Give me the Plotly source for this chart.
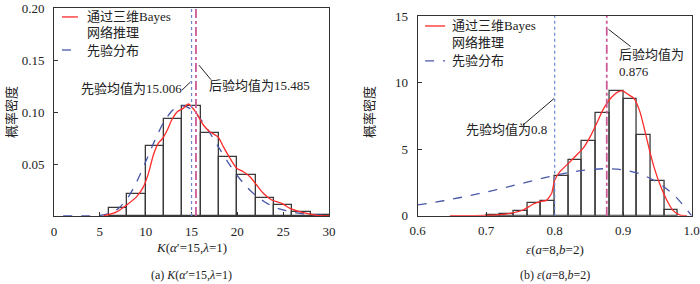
import plotly.graph_objects as go

# ---------------- data: panel (a) ----------------
k_bin_left = [6, 8, 10, 12, 14, 16, 18, 20, 22, 24, 26, 28]
k_bin_width = 2
k_hist = [0.0075, 0.021, 0.067, 0.093, 0.1055, 0.080, 0.057, 0.0394, 0.017, 0.0106, 0.0034, 0.0012]

k_post_x = [5.4, 6.84, 7.93, 9.02, 9.75, 10.3, 10.84, 11.38, 11.85, 12.36, 12.84, 13.45, 14.1, 14.65,
            15.0, 15.56, 16.29, 17.0, 17.9, 18.47, 19.2, 19.93, 20.65, 21.38, 22.1, 22.83, 23.75,
            24.84, 25.75, 27.2, 28.65, 30.0]
k_post_y = [0.0, 0.004, 0.0106, 0.0186, 0.028, 0.041, 0.0587, 0.070, 0.0747, 0.0827, 0.0923, 0.1003,
            0.1035, 0.1077, 0.105, 0.0987, 0.0875, 0.081, 0.076, 0.0667, 0.0555, 0.046, 0.0426, 0.0378,
            0.0298, 0.0218, 0.0154, 0.0122, 0.0074, 0.0032, 0.0007, 0.0]

k_prior_x = list(range(1, 31))
k_prior_y = [0, 0, 0, 0.0001, 0.0005, 0.0022, 0.0071, 0.0169, 0.0324, 0.0521, 0.0727, 0.0905, 0.1021,
             0.1060, 0.1024, 0.0930, 0.0799, 0.0655, 0.0514, 0.0387, 0.0282, 0.0197, 0.0135, 0.0087,
             0.0059, 0.0038, 0.0024, 0.0014, 0.0009, 0.0005]
k_prior_mean = 15.006
k_post_mean = 15.485
k_xticks = [0, 5, 10, 15, 20, 25, 30]
k_yticks = [0.05, 0.10, 0.15, 0.20]

# ---------------- data: panel (b) ----------------
e_bin_left = [0.70, 0.72, 0.74, 0.76, 0.78, 0.80, 0.82, 0.84, 0.86, 0.88, 0.90, 0.92, 0.94, 0.96]
e_bin_width = 0.02
e_hist = [0.06, 0.16, 0.35, 0.93, 1.10, 2.97, 4.15, 5.61, 7.69, 9.38, 8.77, 6.05, 2.58, 0.42]

e_post_x = [0.647, 0.70, 0.72, 0.735, 0.754, 0.769, 0.780, 0.788, 0.7956, 0.800, 0.8077, 0.820, 0.832,
            0.842, 0.8515, 0.861, 0.871, 0.883, 0.893, 0.899, 0.9075, 0.916, 0.9245, 0.932, 0.939,
            0.9465, 0.954, 0.9635, 0.973, 0.983, 0.993]
e_post_y = [0.0, 0.02, 0.08, 0.18, 0.43, 0.88, 1.07, 1.15, 1.68, 2.68, 3.31, 3.93, 4.56,
            5.1, 5.9, 6.9, 8.0, 8.9, 9.32, 9.37, 9.1, 8.8, 7.8, 6.3, 4.8,
            3.4, 2.3, 1.18, 0.38, 0.05, 0.0]

e_prior_x = [0.6, 0.625, 0.65, 0.675, 0.7, 0.725, 0.75, 0.775, 0.8, 0.825, 0.85, 0.875, 0.9, 0.925,
             0.95, 0.975, 1.0]
e_prior_y = [0.81, 1.01, 1.24, 1.50, 1.78, 2.08, 2.40, 2.72, 3.02, 3.28, 3.46, 3.53, 3.44, 3.13,
             2.51, 1.51, 0.0]
e_prior_mean = 0.8
e_post_mean = 0.876
e_xticks = [0.6, 0.7, 0.8, 0.9, 1.0]
e_yticks = [0, 5, 10, 15]

# ---------------- styling ----------------
FONT = "Liberation Serif, Times New Roman, Noto Sans CJK SC, serif"
TXT = "#222222"
RED = "#ff2a2a"
BLUE = "#4a58a8"
VBLUE = "#6a86d0"
PINK = "#cc5a96"
FRAME = "#333333"

fig = go.Figure()

def centers(lefts, w):
    return [l + w / 2 for l in lefts]

# panel (a)
fig.add_trace(go.Bar(x=centers(k_bin_left, k_bin_width), y=k_hist, width=k_bin_width,
                     marker=dict(color="rgba(255,255,255,0)", line=dict(color="#3a3a3a", width=1.3)),
                     xaxis="x", yaxis="y", showlegend=False))
fig.add_trace(go.Scatter(x=k_prior_x, y=k_prior_y, mode="lines",
                         line=dict(color=BLUE, width=1.3, dash="dash", shape="spline", smoothing=0.8),
                         xaxis="x", yaxis="y", showlegend=False))
fig.add_trace(go.Scatter(x=k_post_x, y=k_post_y, mode="lines",
                         line=dict(color=RED, width=1.3, shape="spline", smoothing=0.7),
                         xaxis="x", yaxis="y", showlegend=False))
# panel (b)
fig.add_trace(go.Bar(x=centers(e_bin_left, e_bin_width), y=e_hist, width=e_bin_width,
                     marker=dict(color="rgba(255,255,255,0)", line=dict(color="#3a3a3a", width=1.3)),
                     xaxis="x2", yaxis="y2", showlegend=False))
fig.add_trace(go.Scatter(x=e_prior_x, y=e_prior_y, mode="lines",
                         line=dict(color=BLUE, width=1.3, dash="dash", shape="spline", smoothing=0.8),
                         xaxis="x2", yaxis="y2", showlegend=False))
fig.add_trace(go.Scatter(x=e_post_x, y=e_post_y, mode="lines",
                         line=dict(color=RED, width=1.3, shape="spline", smoothing=0.5),
                         xaxis="x2", yaxis="y2", showlegend=False))

shapes = []
# mean lines
shapes.append(dict(type="line", xref="x", yref="y domain", x0=k_prior_mean, x1=k_prior_mean, y0=0, y1=1,
                   line=dict(color=VBLUE, width=1.2, dash="dot")))
shapes.append(dict(type="line", xref="x", yref="y domain", x0=k_post_mean, x1=k_post_mean, y0=0, y1=1,
                   line=dict(color=PINK, width=1.8, dash="dashdot")))
shapes.append(dict(type="line", xref="x2", yref="y2 domain", x0=e_prior_mean, x1=e_prior_mean, y0=0, y1=1,
                   line=dict(color=VBLUE, width=1.2, dash="dot")))
shapes.append(dict(type="line", xref="x2", yref="y2 domain", x0=e_post_mean, x1=e_post_mean, y0=0, y1=1,
                   line=dict(color=PINK, width=1.8, dash="dashdot")))
# leader lines
lead = dict(color="#222222", width=1)
shapes.append(dict(type="line", xref="x", yref="y", x0=13.96, y0=0.121, x1=14.9, y1=0.129, line=lead))
shapes.append(dict(type="line", xref="x", yref="y", x0=15.82, y0=0.145, x1=17.13, y1=0.131, line=lead))
shapes.append(dict(type="line", xref="x2", yref="y2", x0=0.7537, y0=6.81, x1=0.799, y1=8.8, line=lead))
shapes.append(dict(type="line", xref="x2", yref="y2", x0=0.8785, y0=14.0, x1=0.911, y1=12.7, line=lead))
# legend samples
for xr, yr, x0, x1, yred, yblue in [("x domain", "y domain", 0.029, 0.087, 0.957, 0.798),
                                      ("x2 domain", "y2 domain", 0.027, 0.100, 0.950, 0.775)]:
    shapes.append(dict(type="line", xref=xr, yref=yr, x0=x0, x1=x1, y0=yred, y1=yred,
                       line=dict(color=RED, width=1.3)))
    shapes.append(dict(type="line", xref=xr, yref=yr, x0=x0, x1=x1, y0=yblue, y1=yblue,
                       line=dict(color=BLUE, width=1.3, dash="dash")))

ann = []
def A(text, x, y, xref, yref, xanchor="center", yanchor="middle", angle=0, size=13, align="center"):
    ann.append(dict(text=text, x=x, y=y, xref=xref, yref=yref, xanchor=xanchor, yanchor=yanchor,
                    showarrow=False, textangle=angle, align=align,
                    font=dict(family=FONT, size=size, color=TXT)))

# legend texts
A("通过三维Bayes", 0.113, 0.957, "x domain", "y domain", xanchor="left")
A("网络推理", 0.113, 0.880, "x domain", "y domain", xanchor="left")
A("先验分布", 0.113, 0.798, "x domain", "y domain", xanchor="left")
A("通过三维Bayes", 0.118, 0.950, "x2 domain", "y2 domain", xanchor="left")
A("网络推理", 0.118, 0.865, "x2 domain", "y2 domain", xanchor="left")
A("先验分布", 0.118, 0.775, "x2 domain", "y2 domain", xanchor="left")
# mean annotations
A("先验均值为15.006", 8.4, 0.1225, "x", "y")
A("后验均值为15.485", 22.4, 0.125, "x", "y")
A("先验均值为0.8", 0.729, 6.44, "x2", "y2")
A("后验均值为<br>0.876", 0.8905, 11.5, "x2", "y2", xanchor="left", align="left")
# axis titles
A("概率密度", 12 / 700, 1 - 112 / 284, "paper", "paper", angle=-90)
A("概率密度", 370 / 700, 1 - 112 / 284, "paper", "paper", angle=-90)
A("<i>K</i>(<i>α</i>′=15,<i>λ</i>=1)", 0.5, 1 - 248 / 284, "x domain", "paper")
A("(a) <i>K</i>(<i>α</i>′=15,<i>λ</i>=1)", 0.5, 1 - 275 / 284, "x domain", "paper", size=12)
A("<i>ε</i>(<i>a</i>=8,<i>b</i>=2)", 0.5, 1 - 249 / 284, "x2 domain", "paper")
A("(b) <i>ε</i>(<i>a</i>=8,<i>b</i>=2)", 0.5, 1 - 275 / 284, "x2 domain", "paper", size=12)

axis_common = dict(showline=True, linecolor=FRAME, linewidth=1, mirror=True, ticks="inside",
                   ticklen=4, tickcolor=FRAME, showgrid=False, zeroline=False, automargin=False,
                   tickfont=dict(family=FONT, size=13, color=TXT))

fig.update_layout(
    width=700, height=284,
    margin=dict(l=0, r=0, t=0, b=0, autoexpand=False),
    paper_bgcolor="white", plot_bgcolor="white",
    barmode="overlay", bargap=0,
    showlegend=False,
    xaxis=dict(domain=[54 / 700, 329 / 700], range=[0, 30], tickvals=k_xticks, anchor="y",
               ticklabelstandoff=3, **axis_common),
    yaxis=dict(domain=[68 / 284, 276 / 284], range=[0, 0.2], tickvals=k_yticks, tickformat=".2f",
               anchor="x", ticklabelstandoff=6, **axis_common),
    xaxis2=dict(domain=[417.7 / 700, 691.7 / 700], range=[0.6, 1.0], tickvals=e_xticks, tickformat=".1f",
                anchor="y2", ticklabelstandoff=3, **axis_common),
    yaxis2=dict(domain=[68.3 / 284, 268 / 284], range=[0, 15], tickvals=e_yticks, anchor="x2",
                ticklabelstandoff=6, **axis_common),
    shapes=shapes,
    annotations=ann,
)

fig.write_html("out.html", config={"displayModeBar": False},
               post_script="document.body.style.margin='0px';document.body.style.overflow='hidden';")
